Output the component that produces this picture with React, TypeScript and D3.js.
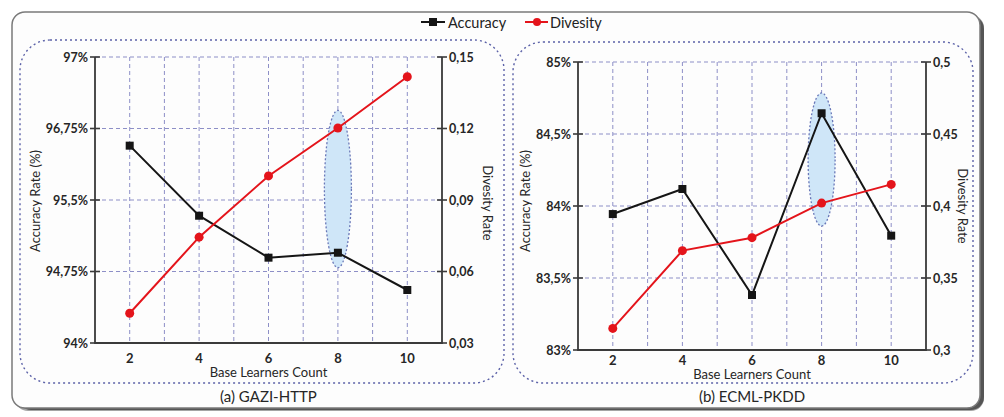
import React from "react";
import * as d3 from "d3";

const baseLearners = [2, 4, 6, 8, 10];
const gridCounts = [2, 3, 4, 5, 6, 7, 8, 9, 10];

const gaziAccuracy = [96.07, 95.335, 94.895, 94.947, 94.556];
const gaziDiversity = [0.0425, 0.0744, 0.1001, 0.1202, 0.1417];
const ecmlAccuracy = [83.944, 84.118, 83.382, 84.644, 83.794];
const ecmlDiversity = [0.315, 0.369, 0.378, 0.402, 0.415];

const gaziAccTicks = [94, 94.75, 95.5, 96.25, 97];
const gaziAccTickLabels = ["94%", "94,75%", "95,5%", "96,75%", "97%"];
const gaziDivTicks = [0.03, 0.06, 0.09, 0.12, 0.15];
const gaziDivTickLabels = ["0,03", "0,06", "0,09", "0,12", "0,15"];

const ecmlAccTicks = [83, 83.5, 84, 84.5, 85];
const ecmlAccTickLabels = ["83%", "83,5%", "84%", "84,5%", "85%"];
const ecmlDivTicks = [0.3, 0.35, 0.4, 0.45, 0.5];
const ecmlDivTickLabels = ["0,3", "0,35", "0,4", "0,45", "0,5"];

// highlight: [x, accuracy top, accuracy bottom]
const gaziHighlight = [8, 96.44, 94.79];
const ecmlHighlight = [8, 84.785, 83.861];

const seriesNames = ["Accuracy", "Divesity"];
const panelTitles = ["(a) GAZI-HTTP", "(b) ECML-PKDD"];

const FONT = "Lato, 'Open Sans', sans-serif";
const GRID = "#8d8fc7";
const PANEL_BORDER = "#5c62a8";
const ACC_COLOR = "#151515";
const DIV_COLOR = "#e4141b";
const TEXT = "#262626";

type PanelProps = {
  box: { x: number; y: number; w: number; h: number };
  plot: { left: number; right: number; top: number; bottom: number };
  acc: number[];
  div: number[];
  accTicks: number[];
  accLabels: string[];
  divTicks: number[];
  divLabels: string[];
  highlight: number[];
  title: string;
  xTickDy: number;
  xTitleDy: number;
  yTitleOffsets: { left: number; right: number; leftY: number; rightY: number };
};

function Panel(p: PanelProps) {
  const { plot } = p;
  const x = d3.scaleLinear().domain([1, 11]).range([plot.left, plot.right]);
  const yA = d3
    .scaleLinear()
    .domain([p.accTicks[0], p.accTicks[p.accTicks.length - 1]])
    .range([plot.bottom, plot.top]);
  const yD = d3
    .scaleLinear()
    .domain([p.divTicks[0], p.divTicks[p.divTicks.length - 1]])
    .range([plot.bottom, plot.top]);

  const accLine = d3
    .line<number>()
    .x((_, i) => x(baseLearners[i]))
    .y((d) => yA(d));
  const divLine = d3
    .line<number>()
    .x((_, i) => x(baseLearners[i]))
    .y((d) => yD(d));

  const hx = x(p.highlight[0]);
  const hTop = yA(p.highlight[1]);
  const hBot = yA(p.highlight[2]);
  const cx = (plot.left + plot.right) / 2;

  return (
    <g>
      <rect
        x={p.box.x}
        y={p.box.y}
        width={p.box.w}
        height={p.box.h}
        rx={30}
        ry={30}
        fill="none"
        stroke={PANEL_BORDER}
        strokeWidth={1.4}
        strokeDasharray="2 3"
      />
      {gridCounts.map((c) => (
        <line
          key={"vg" + c}
          x1={x(c)}
          x2={x(c)}
          y1={plot.top}
          y2={plot.bottom}
          stroke={GRID}
          strokeWidth={1}
          strokeDasharray="4 3"
        />
      ))}
      {p.accTicks.map((t, i) =>
        i === 0 ? null : (
          <line
            key={"hg" + i}
            x1={plot.left}
            x2={plot.right}
            y1={yA(t)}
            y2={yA(t)}
            stroke={GRID}
            strokeWidth={1}
            strokeDasharray="4 3"
          />
        )
      )}
      <ellipse
        cx={hx}
        cy={(hTop + hBot) / 2}
        rx={13.5}
        ry={(hBot - hTop) / 2}
        fill="#cfe6f8"
        stroke="#6a78b8"
        strokeWidth={1.3}
        strokeDasharray="2 2"
      />
      <path
        d={`M${plot.left},${plot.top}V${plot.bottom}H${plot.right}V${plot.top}`}
        fill="none"
        stroke="#3a3a3a"
        strokeWidth={1.8}
      />
      {p.accTicks.map((t, i) => (
        <g key={"lt" + i}>
          <line x1={plot.left - 5} x2={plot.left + 5} y1={yA(t)} y2={yA(t)} stroke="#3a3a3a" strokeWidth={1.6} />
          <text
            x={plot.left - 7}
            y={yA(t)}
            textAnchor="end"
            dominantBaseline="central"
            fontFamily={FONT}
            fontWeight={700}
            fontSize={12.5}
            fill={TEXT}
          >
            {p.accLabels[i]}
          </text>
        </g>
      ))}
      {p.divTicks.map((t, i) => (
        <g key={"rt" + i}>
          <line x1={plot.right - 5} x2={plot.right + 5} y1={yD(t)} y2={yD(t)} stroke="#3a3a3a" strokeWidth={1.6} />
          <text
            x={plot.right + 7}
            y={yD(t)}
            textAnchor="start"
            dominantBaseline="central"
            fontFamily={FONT}
            fontWeight={700}
            fontSize={12.5}
            fill={TEXT}
          >
            {p.divLabels[i]}
          </text>
        </g>
      ))}
      {baseLearners.map((c) => (
        <text
          key={"xt" + c}
          x={x(c)}
          y={plot.bottom + p.xTickDy}
          textAnchor="middle"
          dominantBaseline="central"
          fontFamily={FONT}
          fontWeight={700}
          fontSize={13}
          fill={TEXT}
        >
          {c}
        </text>
      ))}
      <text
        x={cx}
        y={plot.bottom + p.xTitleDy}
        textAnchor="middle"
        dominantBaseline="central"
        fontFamily={FONT}
        fontSize={13}
        fill={TEXT}
      >
        Base Learners Count
      </text>
      <text
        transform={`translate(${p.yTitleOffsets.left},${p.yTitleOffsets.leftY}) rotate(-90)`}
        textAnchor="middle"
        dominantBaseline="central"
        fontFamily={FONT}
        fontSize={13}
        fill={TEXT}
      >
        Accuracy Rate (%)
      </text>
      <text
        transform={`translate(${p.yTitleOffsets.right},${p.yTitleOffsets.rightY}) rotate(90)`}
        textAnchor="middle"
        dominantBaseline="central"
        fontFamily={FONT}
        fontSize={13}
        fill={TEXT}
      >
        Divesity Rate
      </text>
      <path d={accLine(p.acc) || ""} fill="none" stroke={ACC_COLOR} strokeWidth={2} />
      <path d={divLine(p.div) || ""} fill="none" stroke={DIV_COLOR} strokeWidth={2} />
      {p.acc.map((v, i) => (
        <rect
          key={"am" + i}
          x={x(baseLearners[i]) - 4}
          y={yA(v) - 4}
          width={8}
          height={8}
          fill={ACC_COLOR}
        />
      ))}
      {p.div.map((v, i) => (
        <circle key={"dm" + i} cx={x(baseLearners[i])} cy={yD(v)} r={4.5} fill={DIV_COLOR} />
      ))}
      <text
        x={cx}
        y={396}
        textAnchor="middle"
        dominantBaseline="central"
        fontFamily={FONT}
        fontSize={15}
        fill={TEXT}
      >
        {p.title}
      </text>
    </g>
  );
}

export default function App() {
  return (
    <svg
      width={1004}
      height={417}
      style={{ position: "absolute", left: 0, top: 0 }}
      viewBox="0 0 1004 417"
    >
      <rect x={0} y={0} width={1004} height={417} fill="#ffffff" />
      <rect x={15} y={15} width={969} height={396} rx={13} fill="#a5a5a5" />
      <rect x={18} y={16} width={966} height={394} rx={13} fill="#555555" />
      <rect x={12} y={12} width={968} height={396} rx={13} fill="#fdfdfd" stroke="#7a7a7a" strokeWidth={1.5} />

      <g>
        <line x1={421} x2={445} y1={22} y2={22} stroke={ACC_COLOR} strokeWidth={2} />
        <rect x={429} y={18} width={8} height={8} fill={ACC_COLOR} />
        <text x={448} y={22} dominantBaseline="central" fontFamily={FONT} fontSize={14.5} fill="#222">
          {seriesNames[0]}
        </text>
        <line x1={525} x2={548} y1={22} y2={22} stroke={DIV_COLOR} strokeWidth={2} />
        <circle cx={537} cy={22} r={4} fill={DIV_COLOR} />
        <text x={550} y={22} dominantBaseline="central" fontFamily={FONT} fontSize={14.5} fill="#222">
          {seriesNames[1]}
        </text>
      </g>

      <Panel
        box={{ x: 20, y: 40, w: 484, h: 343 }}
        plot={{ left: 95, right: 442, top: 57, bottom: 343 }}
        acc={gaziAccuracy}
        div={gaziDiversity}
        accTicks={gaziAccTicks}
        accLabels={gaziAccTickLabels}
        divTicks={gaziDivTicks}
        divLabels={gaziDivTickLabels}
        highlight={gaziHighlight}
        title={panelTitles[0]}
        xTickDy={15}
        xTitleDy={29}
        yTitleOffsets={{ left: 35, leftY: 201, right: 488, rightY: 203 }}
      />
      <Panel
        box={{ x: 513, y: 42, w: 460, h: 341 }}
        plot={{ left: 578, right: 926, top: 62, bottom: 350 }}
        acc={ecmlAccuracy}
        div={ecmlDiversity}
        accTicks={ecmlAccTicks}
        accLabels={ecmlAccTickLabels}
        divTicks={ecmlDivTicks}
        divLabels={ecmlDivTickLabels}
        highlight={ecmlHighlight}
        title={panelTitles[1]}
        xTickDy={10}
        xTitleDy={24}
        yTitleOffsets={{ left: 525, leftY: 201, right: 963, rightY: 206 }}
      />
    </svg>
  );
}
